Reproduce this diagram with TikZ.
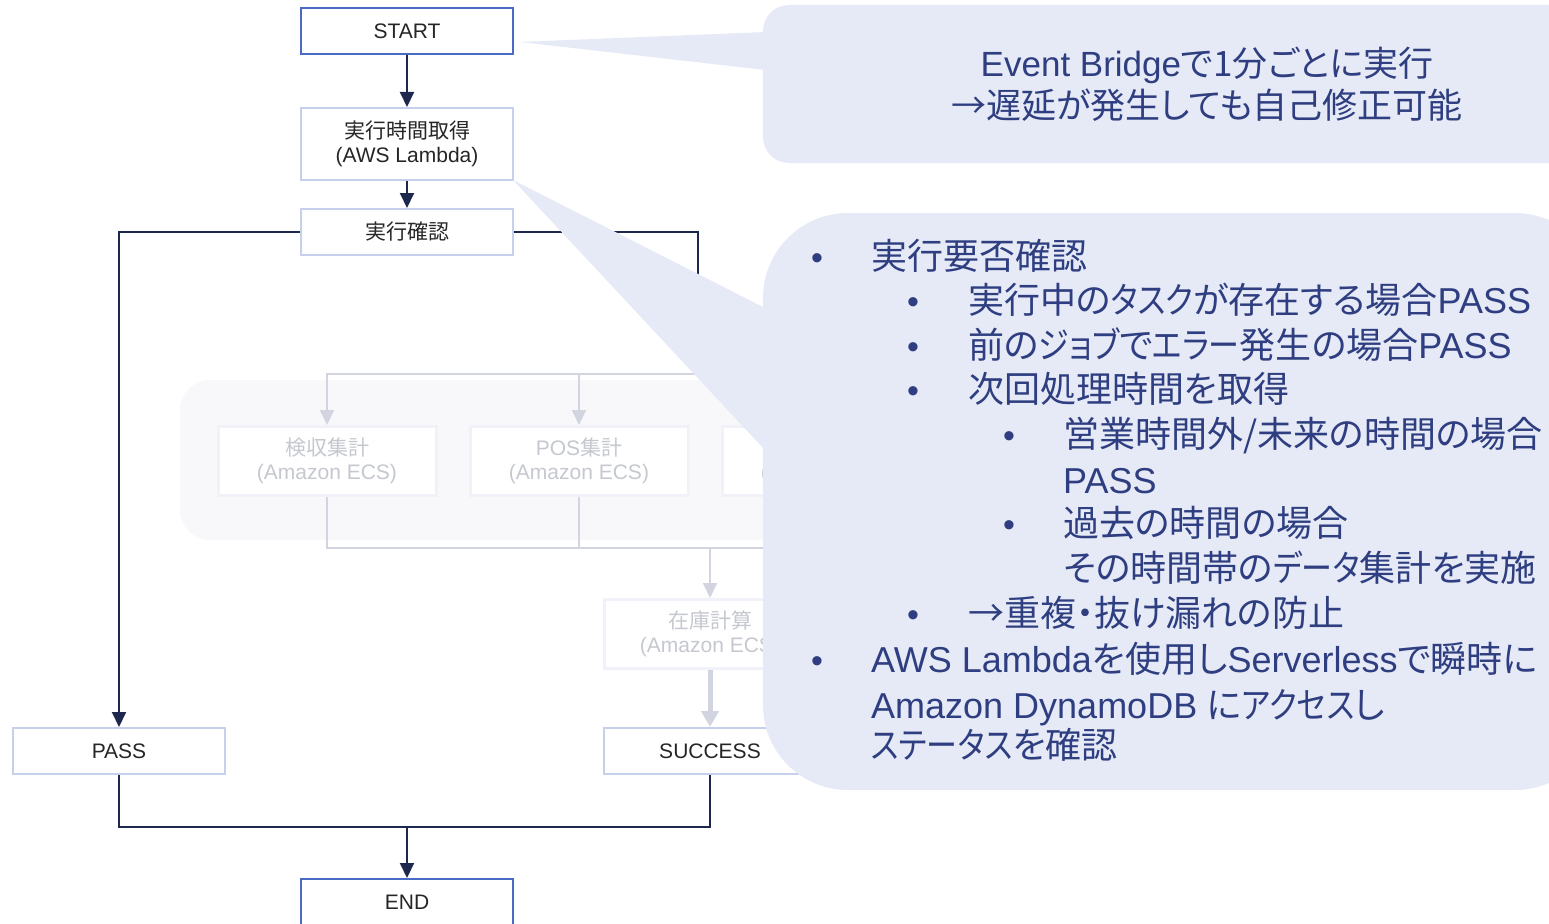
\documentclass[tikz,border=0pt]{standalone}
\usepackage{fontspec}
\setmainfont{Liberation Sans}
\newfontfamily\jp{Noto Sans CJK JP}[RawFeature=+palt]
\newfontfamily\kana{Noto Sans CJK JP}[RawFeature=+palt, FakeStretch=0.86]
\usetikzlibrary{arrows.meta,positioning}
\definecolor{ink}{RGB}{30,40,78}
\definecolor{frame}{RGB}{198,207,236}
\definecolor{edge}{RGB}{74,106,196}
\definecolor{faint}{RGB}{210,213,223}
\definecolor{fainttext}{RGB}{198,200,208}
\definecolor{faintframe}{RGB}{241,242,249}
\definecolor{faintbg}{RGB}{248,248,251}
\definecolor{bubblefill}{RGB}{230,234,246}
\definecolor{bubbletext}{RGB}{46,62,128}
\tikzset{
  box/.style={draw=frame, fill=white, line width=2pt, minimum width=212pt, minimum height=46pt, inner sep=0pt,
    align=center, text=black!85, font=\fontsize{21}{24}\selectfont},
  term/.style={box, draw=edge},
  tall/.style={box, minimum height=72pt},
  ghost/.style={box, draw=faintframe, line width=3pt, text=fainttext, minimum width=218pt, minimum height=69pt},
  flow/.style={-{Triangle[length=15pt,width=14pt]}, draw=ink, line width=2pt},
  link/.style={draw=ink, line width=2pt},
  dim/.style={draw=faint, line width=2pt},
  dimflow/.style={dim, -{Triangle[length=15pt,width=14pt]}},
  say/.style={text=bubbletext, font=\fontsize{36}{42}\selectfont, inner sep=0pt, anchor=west, text height=31pt, text depth=4pt},
  dot/.style={say, anchor=center, font=\fontsize{34}{42}\selectfont},
}

\begin{document}
\begin{tikzpicture}[x=1pt,y=-1pt]
  \clip (0,0) rectangle (1549,923);
  % faded parallel part of the state machine
  \fill[faintbg, rounded corners=30pt] (180,380) rectangle (1000,540);

  \node[term] (start) at (407,31) {START};
  \node[tall] (gettime) at (407,144) {{\jp 実行時間取得}\\(AWS Lambda)};
  \node[box] (check) at (407,232) {\jp 実行確認};
  \node[box] (pass) at (119,751) {PASS};
  \node[box] (success) at (710,751) {SUCCESS};
  \node[term] (end) at (407,902) {END};

  \node[ghost] (kenshu) at (327,461) {{\jp 検収集計}\\(Amazon ECS)};
  \node[ghost, right=31pt of kenshu] (pos) {POS{\jp 集計}\\(Amazon ECS)};
  \node[ghost, right=31pt of pos] (third) {\strut\\(Amazon ECS)};
  \node[ghost, minimum width=212pt] (stock) at (710,634) {{\jp 在庫計算}\\(Amazon ECS)};

  \coordinate (fork) at (698,374);
  \coordinate (join) at (710,548);
  \coordinate (merge) at (407,827);

  \draw[flow] (start) -- (gettime);
  \draw[flow] (gettime) -- (check);
  \draw[flow] (check.west) -| (pass.north);
  \draw[link] (check.east) -| (fork);
  \draw[dimflow] (fork) -| (kenshu.north);
  \draw[dimflow] (fork) -| (pos.north);
  \draw[dimflow] (fork) -| (third.north);
  \draw[dim] (kenshu.south) |- (join);
  \draw[dim] (pos.south) |- (join);
  \draw[dim] (third.south) |- (join);
  \draw[dimflow] (join) -- (stock.north);
  \draw[dim, line width=5pt, -{Triangle[length=16pt,width=17pt]}] (stock) -- (success);
  \draw[link] (pass.south) |- (merge);
  \draw[link] (success.south) |- (merge);
  \draw[flow] (merge) -- (end);

  % callouts
  \fill[bubblefill, rounded corners=26pt] (763,5) rectangle (1600,163);
  \fill[bubblefill] (765,32) -- (520,42) -- (765,70) -- cycle;
  \node[say, anchor=center, align=center, text height=, text depth=, font=\fontsize{35}{42}\selectfont] (every) at (1207,84)
    {Event Bridge{\jp で1分ごとに実行}\\{\jp →遅延が発生しても自己修正可能}};

  \fill[bubblefill, rounded corners=85pt] (763,213) rectangle (1600,790);
  \fill[bubblefill] (765,308) -- (513,180) -- (765,450) -- cycle;

  \node[dot] (d1) at (817,256) {•};
  \node[say] (l1) at (871,256) {\jp 実行要否確認};
  \node[dot] (d2) at (913,300) {•};
  \node[say] (l2) at (968,300) {{\jp 実行中の{\kana タスク}が存在する場合}PASS};
  \node[dot] (d3) at (913,345) {•};
  \node[say] (l3) at (968,345) {{\jp 前の{\kana ジョブ}で{\kana エラー}発生の場合}PASS};
  \node[dot] (d4) at (913,389) {•};
  \node[say] (l4) at (968,389) {\jp 次回処理時間を取得};
  \node[dot] (d5) at (1009,434) {•};
  \node[say] (l5) at (1063,434) {\jp 営業時間外/未来の時間の場合};
  \node[say] (l5b) at (1063,480) {PASS};
  \node[dot] (d6) at (1009,523) {•};
  \node[say] (l6) at (1063,523) {\jp 過去の時間の場合};
  \node[say] (l6b) at (1063,568) {\jp その時間帯の{\kana データ}集計を実施};
  \node[dot] (d7) at (913,613) {•};
  \node[say] (l7) at (968,613) {\jp →重複・抜け漏れの防止};
  \node[dot] (d8) at (817,659) {•};
  \node[say] (l8) at (871,659) {AWS Lambda{\jp を使用し}Serverless{\jp で瞬時に}};
  \node[say] (l8b) at (871,705) {Amazon DynamoDB {\jp に{\kana アクセス}し}};
  \node[say] (l8c) at (871,745) {{\kana ステータス}{\jp を確認}};
\end{tikzpicture}
\end{document}
